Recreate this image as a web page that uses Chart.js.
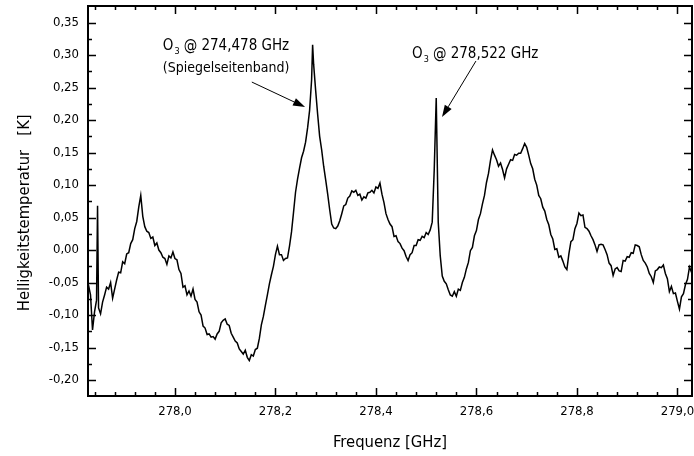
<!DOCTYPE html>
<html><head><meta charset="utf-8">
<script src="https://cdn.jsdelivr.net/npm/chart.js@4.4.0/dist/chart.umd.min.js"></script>
<style>html,body{margin:0;padding:0;background:#fff;}#wrap{width:694px;height:456px;}</style>
</head><body><div id="wrap"><canvas id="c" width="694" height="456"></canvas></div>
<script>
const freqGHz = [
277.828,277.832,277.836,277.840,277.844,277.846,277.848,277.852,277.856,277.860,277.864,
277.868,277.872,277.876,277.880,277.884,277.888,277.892,277.896,277.900,277.904,
277.908,277.912,277.916,277.920,277.924,277.928,277.932,277.936,277.940,277.944,
277.948,277.952,277.956,277.960,277.964,277.968,277.972,277.976,277.980,277.984,
277.988,277.992,277.996,278.000,278.004,278.008,278.012,278.016,278.020,278.024,
278.028,278.032,278.036,278.040,278.044,278.048,278.052,278.056,278.060,278.064,
278.068,278.072,278.076,278.080,278.084,278.088,278.092,278.096,278.100,278.104,
278.108,278.112,278.116,278.120,278.124,278.128,278.132,278.136,278.140,278.144,
278.148,278.152,278.156,278.160,278.164,278.168,278.172,278.176,278.180,278.184,
278.188,278.192,278.196,278.200,278.204,278.208,278.212,278.216,278.220,278.224,
278.228,278.232,278.236,278.240,278.244,278.248,278.252,278.256,278.260,278.264,
278.268,278.272,278.274,278.276,278.280,278.284,278.288,278.292,278.296,278.300,278.304,
278.308,278.312,278.316,278.320,278.324,278.328,278.332,278.336,278.340,278.344,
278.348,278.352,278.356,278.360,278.364,278.368,278.372,278.376,278.380,278.384,
278.388,278.392,278.396,278.400,278.404,278.408,278.412,278.416,278.420,278.424,
278.428,278.432,278.436,278.440,278.444,278.448,278.452,278.456,278.460,278.464,
278.468,278.472,278.476,278.480,278.484,278.488,278.492,278.496,278.500,278.504,
278.508,278.512,278.516,278.520,278.524,278.528,278.532,278.536,278.540,278.544,
278.548,278.552,278.556,278.560,278.564,278.568,278.572,278.576,278.580,278.584,
278.588,278.592,278.596,278.600,278.604,278.608,278.612,278.616,278.620,278.624,
278.628,278.632,278.636,278.640,278.644,278.648,278.652,278.656,278.660,278.664,
278.668,278.672,278.676,278.680,278.684,278.688,278.692,278.696,278.700,278.704,
278.708,278.712,278.716,278.720,278.724,278.728,278.732,278.736,278.740,278.744,
278.748,278.752,278.756,278.760,278.764,278.768,278.772,278.776,278.780,278.784,
278.788,278.792,278.796,278.800,278.804,278.808,278.812,278.816,278.820,278.824,
278.828,278.832,278.836,278.840,278.844,278.848,278.852,278.856,278.860,278.864,
278.868,278.872,278.876,278.880,278.884,278.888,278.892,278.896,278.900,278.904,
278.908,278.912,278.916,278.920,278.924,278.928,278.932,278.936,278.940,278.944,
278.948,278.952,278.956,278.960,278.964,278.968,278.972,278.976,278.980,278.984,
278.988,278.992,278.996,279.000,279.004,279.008,279.012,279.016,279.020,279.024,
279.028,279.032
];
const tempK = [
-0.054,-0.069,-0.123,-0.095,-0.077,0.068,-0.089,-0.098,-0.080,-0.069,-0.057,
-0.060,-0.050,-0.074,-0.060,-0.046,-0.034,-0.035,-0.018,-0.021,-0.006,
-0.004,0.010,0.016,0.033,0.044,0.066,0.084,0.052,0.036,0.029,
0.027,0.018,0.020,0.007,0.011,0.000,-0.004,-0.011,-0.013,-0.022,
-0.009,-0.012,-0.003,-0.013,-0.015,-0.030,-0.036,-0.057,-0.055,-0.069,
-0.063,-0.071,-0.060,-0.076,-0.080,-0.095,-0.100,-0.117,-0.120,-0.130,
-0.129,-0.134,-0.133,-0.137,-0.129,-0.125,-0.112,-0.108,-0.106,-0.114,
-0.116,-0.128,-0.134,-0.140,-0.143,-0.152,-0.156,-0.160,-0.154,-0.165,
-0.170,-0.161,-0.163,-0.153,-0.151,-0.136,-0.115,-0.102,-0.085,-0.069,
-0.052,-0.038,-0.025,-0.007,0.006,-0.007,-0.007,-0.016,-0.013,-0.012,
0.006,0.028,0.058,0.089,0.109,0.126,0.142,0.152,0.166,0.188,
0.215,0.262,0.316,0.286,0.246,0.209,0.175,0.154,0.129,0.108,0.086,
0.062,0.040,0.034,0.033,0.037,0.045,0.056,0.068,0.070,0.080,
0.083,0.091,0.089,0.092,0.084,0.086,0.077,0.082,0.080,0.088,
0.089,0.092,0.088,0.097,0.095,0.103,0.086,0.073,0.056,0.047,
0.040,0.036,0.021,0.022,0.013,0.010,0.003,-0.001,-0.010,-0.016,
-0.007,-0.004,0.007,0.007,0.016,0.015,0.021,0.019,0.027,0.024,
0.031,0.043,0.123,0.234,0.043,-0.009,-0.040,-0.048,-0.052,-0.061,
-0.069,-0.071,-0.064,-0.071,-0.060,-0.062,-0.050,-0.042,-0.029,-0.019,
-0.001,0.004,0.022,0.030,0.047,0.056,0.071,0.084,0.104,0.118,
0.138,0.154,0.146,0.139,0.129,0.134,0.124,0.111,0.125,0.132,
0.139,0.138,0.147,0.146,0.149,0.149,0.156,0.164,0.158,0.146,
0.133,0.125,0.109,0.100,0.084,0.079,0.066,0.060,0.047,0.039,
0.024,0.017,0.001,0.002,-0.011,-0.009,-0.017,-0.026,-0.030,-0.006,
0.013,0.016,0.033,0.041,0.057,0.053,0.054,0.035,0.033,0.029,
0.022,0.016,0.008,-0.002,0.008,0.009,0.008,0.001,-0.007,-0.020,
-0.024,-0.039,-0.029,-0.027,-0.032,-0.033,-0.016,-0.017,-0.010,-0.011,
-0.004,-0.005,0.008,0.007,0.005,-0.007,-0.016,-0.020,-0.026,-0.036,
-0.041,-0.050,-0.032,-0.030,-0.026,-0.027,-0.023,-0.036,-0.044,-0.064,
-0.056,-0.067,-0.066,-0.079,-0.091,-0.072,-0.067,-0.053,-0.045,-0.026,
-0.034,-0.046
];
const xTickValues = [278.0, 278.2, 278.4, 278.6, 278.8, 279.0];
const xTickLabels = ['278,0', '278,2', '278,4', '278,6', '278,8', '279,0'];
const yTickValues = [-0.20, -0.15, -0.10, -0.05, 0.00, 0.05, 0.10, 0.15, 0.20, 0.25, 0.30, 0.35];
const yTickLabels = ['-0,20', '-0,15', '-0,10', '-0,05', '0,00', '0,05', '0,10', '0,15', '0,20', '0,25', '0,30', '0,35'];
const xTitle = 'Frequenz [GHz]';
const yTitle = 'Helligkeitstemperatur   [K]     ';
const noteLines = [
  {x: 277.976, y: 0.3077, o3: true, size: 15, text: '@ 274,478 GHz'},
  {x: 277.976, y: 0.2738, o3: false, size: 14, text: '(Spiegelseitenband)'},
  {x: 278.472, y: 0.2954, o3: true, size: 15, text: '@ 278,522 GHz'}
];
const noteArrows = [
  {x1: 278.153, y1: 0.2585, x2: 278.259, y2: 0.220},
  {x1: 278.599, y1: 0.2908, x2: 278.5315, y2: 0.2046}
];

const FONT = "'DejaVu Sans Condensed', 'Liberation Sans Narrow', sans-serif";

const framePlugin = {
  id: 'frame',
  afterDraw(chart) {
    const ctx = chart.ctx, a = chart.chartArea;
    const xs = chart.scales.x, ys = chart.scales.y;
    ctx.save();
    ctx.strokeStyle = '#000';
    ctx.lineWidth = 1.5;
    ctx.beginPath();
    const xMinor = [];
    for (let v = 277.84; v < 279.03; v += 0.04) xMinor.push(Math.round(v * 1000) / 1000);
    xMinor.forEach(v => {
      const major = xTickValues.some(t => Math.abs(t - v) < 1e-6);
      const len = major ? 8 : 4;
      const p = Math.round(xs.getPixelForValue(v)) + 0.5;
      ctx.moveTo(p, a.bottom); ctx.lineTo(p, a.bottom - len);
      ctx.moveTo(p, a.top); ctx.lineTo(p, a.top + len);
    });
    const yAll = [];
    for (let k = -8; k <= 14; k++) yAll.push(Math.round(k * 25) / 1000);
    yAll.forEach(v => {
      if (v <= -0.2245 || v >= 0.3755) return;
      const major = yTickValues.some(t => Math.abs(t - v) < 1e-6);
      const len = major ? 8 : 4;
      const p = Math.round(ys.getPixelForValue(v)) + 0.5;
      ctx.moveTo(a.left, p); ctx.lineTo(a.left + len, p);
      ctx.moveTo(a.right, p); ctx.lineTo(a.right - len, p);
    });
    ctx.stroke();
    ctx.lineWidth = 2;
    ctx.strokeRect(a.left, a.top, a.right - a.left, a.bottom - a.top);

    ctx.fillStyle = '#000';
    ctx.textBaseline = 'alphabetic';
    ctx.textAlign = 'left';
    noteLines.forEach(n => {
      let x = xs.getPixelForValue(n.x);
      const y = ys.getPixelForValue(n.y);
      ctx.font = n.size + 'px ' + FONT;
      if (n.o3) {
        ctx.fillText('O', x, y);
        x += ctx.measureText('O').width + 1;
        ctx.font = '9px ' + FONT;
        ctx.fillText('3', x, y + 4);
        x += ctx.measureText('3').width + 4;
        ctx.font = n.size + 'px ' + FONT;
      }
      ctx.fillText(n.text, x, y);
    });
    ctx.lineWidth = 1;
    noteArrows.forEach(r => {
      const x1 = xs.getPixelForValue(r.x1), y1 = ys.getPixelForValue(r.y1);
      const x2 = xs.getPixelForValue(r.x2), y2 = ys.getPixelForValue(r.y2);
      const ang = Math.atan2(y2 - y1, x2 - x1);
      const L = 12, W = 4;
      const bx = x2 - L * Math.cos(ang), by = y2 - L * Math.sin(ang);
      ctx.beginPath();
      ctx.moveTo(x1, y1); ctx.lineTo(bx, by); ctx.stroke();
      ctx.beginPath();
      ctx.moveTo(x2, y2);
      ctx.lineTo(bx + W * Math.sin(ang), by - W * Math.cos(ang));
      ctx.lineTo(bx - W * Math.sin(ang), by + W * Math.cos(ang));
      ctx.closePath();
      ctx.fill();
    });
    ctx.restore();
  }
};

function noPad(s) { s.paddingLeft = 0; s.paddingRight = 0; s.paddingTop = 0; s.paddingBottom = 0; }

new Chart(document.getElementById('c'), {
  type: 'line',
  data: {
    datasets: [{
      data: freqGHz.map((f, i) => ({x: f, y: tempK[i]})),
      borderColor: '#000',
      borderWidth: 1.5,
      pointRadius: 0,
      tension: 0,
      fill: false
    }]
  },
  options: {
    responsive: false,
    animation: false,
    layout: {padding: {top: 6, right: 2, left: 0, bottom: 0}},
    plugins: {legend: {display: false}, tooltip: {enabled: false}},
    scales: {
      x: {
        type: 'linear',
        min: 277.827,
        max: 279.029,
        grid: {display: false, drawTicks: false},
        border: {display: false},
        afterFit(s) { s.height = 60; noPad(s); },
        afterBuildTicks(s) { s.ticks = xTickValues.map(v => ({value: v})); },
        ticks: {
          padding: 8,
          color: '#000',
          font: {family: FONT, size: 13},
          maxRotation: 0,
          autoSkip: false,
          callback(v) { const i = xTickValues.findIndex(t => Math.abs(t - v) < 1e-6); return i >= 0 ? xTickLabels[i] : ''; }
        },
        title: {display: true, text: xTitle, color: '#000', font: {family: FONT, size: 16.5}, padding: {top: 0, bottom: 3}}
      },
      y: {
        type: 'linear',
        min: -0.2245,
        max: 0.3755,
        grid: {display: false, drawTicks: false},
        border: {display: false},
        afterFit(s) { s.width = 88; noPad(s); },
        afterBuildTicks(s) { s.ticks = yTickValues.map(v => ({value: v})); },
        ticks: {
          padding: 9,
          color: '#000',
          font: {family: FONT, size: 13},
          autoSkip: false,
          callback(v) { const i = yTickValues.findIndex(t => Math.abs(t - v) < 1e-6); return i >= 0 ? yTickLabels[i] : ''; }
        },
        title: {display: true, text: yTitle, color: '#000', font: {family: FONT, size: 16.5}, padding: {top: 15, bottom: 0}}
      }
    }
  },
  plugins: [framePlugin]
});
</script>
</body></html>
